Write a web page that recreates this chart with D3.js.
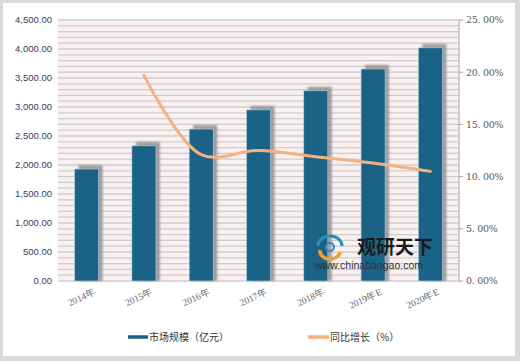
<!DOCTYPE html>
<html><head><meta charset="utf-8">
<script src="https://cdn.jsdelivr.net/npm/d3@7"></script>
<style>
html,body{margin:0;padding:0;background:#fff;}
svg{display:block;}
</style></head>
<body>
<svg id="c" width="520" height="361"></svg>
<script>
const categories = ["2014年","2015年","2016年","2017年","2018年","2019年E","2020年E"];
const marketSize = [1930, 2330, 2620, 2950, 3280, 3655, 4020];
const growth = [null, 19.7, 12.1, 12.5, 11.9, 11.3, 10.5];
const leftTicks = [0,500,1000,1500,2000,2500,3000,3500,4000,4500];
const rightTicks = [0,5,10,15,20,25];
const legendLabels = ["市场规模（亿元）","同比增长（%）"];

const svg = d3.select("#c");
svg.append("rect").attr("x",0).attr("y",0).attr("width",520).attr("height",361).attr("fill","#d9d9d9");
svg.append("rect").attr("x",3).attr("y",3).attr("width",512).attr("height",353).attr("fill","#ffffff");

const m = {l:58, r:459, t:20, b:281};
const x = d3.scaleBand().domain(categories).range([m.l, m.r]).paddingInner(0.58).paddingOuter(0.29);
const yL = d3.scaleLinear().domain([0,4500]).range([m.b, m.t]);
const yR = d3.scaleLinear().domain([0,25]).range([m.b, m.t]);

svg.append("rect").attr("x",m.l).attr("y",m.t).attr("width",m.r-m.l).attr("height",m.b-m.t).attr("fill","#f9f1f1");
const stripes = d3.range(0,4501,100);
svg.append("g").selectAll("line").data(stripes).join("line")
  .attr("x1",m.l).attr("x2",m.r).attr("y1",d=>yL(d)).attr("y2",d=>yL(d))
  .attr("stroke","#cfcccc").attr("stroke-width",1.3);

const defs = svg.append("defs");
const f = defs.append("filter").attr("id","blur").attr("x","-30%").attr("y","-30%").attr("width","160%").attr("height","160%");
f.append("feGaussianBlur").attr("stdDeviation",1.3);

const bw = x.bandwidth();
svg.append("g").selectAll("rect").data(marketSize).join("rect")
  .attr("x",(d,i)=>x(categories[i])+4).attr("y",d=>yL(d)-4)
  .attr("width",bw).attr("height",d=>m.b-yL(d)+4)
  .attr("fill","#8f8f8f").attr("opacity",0.85).attr("filter","url(#blur)");
svg.append("g").selectAll("rect").data(marketSize).join("rect")
  .attr("x",(d,i)=>x(categories[i])).attr("y",d=>yL(d))
  .attr("width",bw).attr("height",d=>m.b-yL(d))
  .attr("fill","#1b6386").attr("stroke","#b9d3df").attr("stroke-width",0.6);

const pts = growth.map((g,i)=>({c:categories[i],g})).filter(d=>d.g!==null);
const line = d3.line().x(d=>x(d.c)+bw/2).y(d=>yR(d.g)).curve(d3.curveCatmullRom.alpha(0.5));
svg.append("path").datum(pts).attr("d",line).attr("fill","none")
  .attr("stroke","#f4b183").attr("stroke-width",3).attr("stroke-linecap","round");

svg.append("g").selectAll("text").data(leftTicks).join("text")
  .attr("x",52).attr("y",d=>yL(d)).attr("dy","0.35em").attr("text-anchor","end")
  .attr("font-family","Liberation Sans, Arial, sans-serif").attr("font-size",9.5)
  .attr("fill","#3a3a5e").text(d=>d3.format(",.2f")(d));

const ra = svg.append("g");
ra.append("line").attr("x1",m.r).attr("x2",m.r).attr("y1",m.t).attr("y2",m.b).attr("stroke","#a6a6a6").attr("stroke-width",1);
ra.selectAll("line.t").data(rightTicks).join("line").attr("class","t")
  .attr("x1",m.r).attr("x2",m.r+4).attr("y1",d=>yR(d)).attr("y2",d=>yR(d)).attr("stroke","#a6a6a6");
ra.selectAll("text").data(rightTicks).join("text")
  .attr("x",m.r+7).attr("y",d=>yR(d)).attr("dy","0.35em")
  .attr("font-family","DejaVu Serif, serif").attr("font-size",9.5).attr("letter-spacing",-0.3)
  .attr("fill","#595959").text(d=>d3.format(".2f")(d).replace(".",". ")+"%");

svg.append("g").selectAll("text").data(categories).join("text")
  .attr("transform",d=>`translate(${x(d)+bw/2+8},${m.b+10}) rotate(-25)`)
  .attr("text-anchor","end").attr("dy","0.35em")
  .attr("font-family","Liberation Serif, serif").attr("font-size",9.5)
  .attr("fill","#666666").text(d=>d);

const wm = svg.append("g");
wm.append("path").attr("d","M318,246 a12,10 0 1,1 24,0").attr("fill","none").attr("stroke","#2a8fc0").attr("stroke-width",3);
wm.append("path").attr("d","M320,250 a10,8 0 0,0 20,2").attr("fill","none").attr("stroke","#f0a030").attr("stroke-width",3.5);
wm.append("circle").attr("cx",330).attr("cy",247).attr("r",4).attr("fill","none").attr("stroke","#2a8fc0").attr("stroke-width",2);
wm.append("text").attr("x",357).attr("y",254).attr("font-family","Noto Sans CJK SC, sans-serif").attr("font-weight","bold")
  .attr("font-size",19).attr("fill","#1a1a1a").text("观研天下");
wm.append("text").attr("x",315).attr("y",269).attr("font-family","Liberation Sans, Arial, sans-serif")
  .attr("font-size",10.5).attr("fill","#333").text("www.chinabaogao.com");

const lg = svg.append("g").attr("font-family","Noto Sans CJK SC, sans-serif").attr("font-size",10).attr("fill","#333");
lg.append("line").attr("x1",128).attr("x2",148).attr("y1",337).attr("y2",337).attr("stroke","#1b6386").attr("stroke-width",3.5);
lg.append("text").attr("x",149).attr("y",337).attr("dy","0.35em").text(legendLabels[0]);
lg.append("line").attr("x1",308).attr("x2",329).attr("y1",337).attr("y2",337).attr("stroke","#f4b183").attr("stroke-width",3.5);
lg.append("text").attr("x",330).attr("y",337).attr("dy","0.35em").text(legendLabels[1]);
</script>
</body></html>
